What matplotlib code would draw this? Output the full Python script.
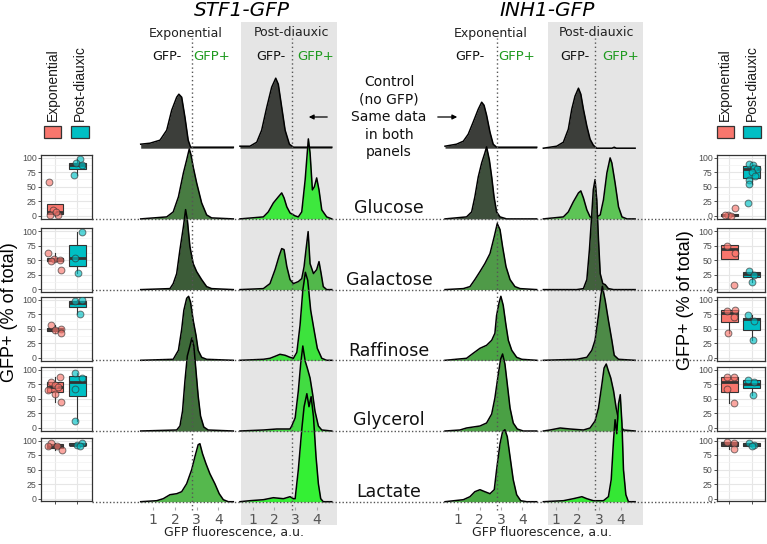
import matplotlib
matplotlib.use("Agg")
import matplotlib.pyplot as plt
from matplotlib.patches import Rectangle, FancyArrowPatch

W, H = 767, 544

# ---------------- data ----------------
rows = ["Control", "Glucose", "Galactose", "Raffinose", "Glycerol", "Lactate"]
sugars = rows[1:]

# histogram outlines (x = log10 GFP, h = height in px above the row baseline)
stf1_exp = {
    "Control": ([0.42, 0.85, 1.31, 1.62, 1.85, 2.08, 2.18, 2.31, 2.46, 2.61, 2.72, 4.69],
                [4, 5, 8, 18, 38, 51, 54, 51, 31, 8, 1, 1]),
    "Glucose": ([0.42, 1.62, 1.92, 2.16, 2.39, 2.54, 2.66, 2.74, 2.84, 3.0, 3.23, 3.46, 3.69, 4.69],
                [0, 2, 7, 22, 46, 59, 70, 64, 52, 36, 16, 4, 1, 0]),
    "Galactose": ([0.42, 1.77, 1.92, 2.08, 2.23, 2.39, 2.49, 2.57, 2.69, 2.84, 3.0, 3.23, 3.46, 3.69, 4.69],
                  [0, 1, 6, 16, 40, 63, 80, 70, 43, 26, 18, 10, 3, 1, 0]),
    "Raffinose": ([0.42, 1.92, 2.16, 2.31, 2.41, 2.54, 2.63, 2.72, 2.84, 2.97, 3.07, 3.23, 3.46, 4.69],
                  [0, 1, 10, 31, 50, 62, 64, 58, 40, 25, 10, 3, 1, 0]),
    "Glycerol": ([0.42, 2.08, 2.23, 2.35, 2.46, 2.57, 2.69, 2.78, 2.87, 2.97, 3.07, 3.18, 3.33, 3.53, 4.69],
                 [0, 1, 5, 20, 50, 75, 85, 93, 85, 60, 35, 15, 4, 1, 0]),
    "Lactate": ([0.42, 1.16, 1.46, 1.77, 2.08, 2.31, 2.54, 2.77, 2.92, 3.07, 3.15, 3.27, 3.43, 3.61, 3.84, 4.04, 4.23, 4.46, 4.69],
                [0, 1, 3, 7, 8, 10, 18, 32, 45, 57, 58, 48, 38, 28, 18, 8, 2, 0, 0]),
}
stf1_post = {
    "Control": ([0.40, 0.87, 1.19, 1.42, 1.66, 1.89, 2.08, 2.20, 2.36, 2.52, 2.72, 2.91, 4.71],
                [2, 2, 6, 18, 41, 61, 70, 64, 41, 18, 4, 1, 1]),
    "Glucose": ([0.40, 1.50, 1.73, 1.97, 2.20, 2.36, 2.47, 2.60, 2.75, 2.99, 3.14, 3.30, 3.46, 3.61, 3.69, 3.80, 3.89, 4.00, 4.11, 4.24, 4.47, 4.71],
                [0, 2, 7, 16, 22, 26, 21, 12, 6, 3, 2, 7, 39, 80, 66, 29, 32, 41, 29, 9, 2, 0]),
    "Galactose": ([0.40, 1.50, 1.81, 2.05, 2.23, 2.36, 2.47, 2.60, 2.75, 2.91, 3.14, 3.30, 3.41, 3.50, 3.60, 3.69, 3.85, 4.00, 4.11, 4.21, 4.31, 4.47, 4.71],
                  [0, 1, 6, 20, 33, 41, 40, 23, 10, 6, 8, 11, 23, 40, 58, 26, 16, 20, 28, 16, 3, 0, 0]),
    "Raffinose": ([0.40, 1.50, 1.81, 2.05, 2.28, 2.52, 2.75, 2.91, 3.07, 3.22, 3.35, 3.47, 3.58, 3.72, 3.88, 4.03, 4.24, 4.47, 4.71],
                  [0, 1, 2, 4, 6, 5, 3, 2, 8, 35, 70, 88, 80, 50, 30, 12, 2, 0, 0]),
    "Glycerol": ([0.40, 1.50, 2.13, 2.75, 2.83, 2.99, 3.14, 3.25, 3.35, 3.46, 3.56, 3.69, 3.81, 3.92, 4.08, 4.24, 4.71],
                 [0, 1, 2, 2, 5, 13, 40, 67, 85, 70, 63, 53, 37, 20, 5, 1, 0]),
    "Lactate": ([0.40, 0.87, 1.50, 1.97, 2.44, 2.75, 2.91, 2.99, 3.14, 3.30, 3.41, 3.54, 3.64, 3.74, 3.85, 3.97, 4.08, 4.19, 4.31, 4.71],
                [0, 1, 2, 4, 3, 5, 3, 3, 32, 72, 95, 108, 95, 105, 85, 45, 18, 3, 0, 0]),
}
inh1_exp = {
    "Control": ([0.38, 0.92, 1.24, 1.47, 1.70, 1.94, 2.10, 2.21, 2.33, 2.49, 2.64, 2.80, 4.68],
                [2, 4, 7, 14, 26, 39, 46, 43, 33, 16, 4, 1, 1]),
    "Glucose": ([0.38, 1.39, 1.63, 1.78, 1.94, 2.10, 2.25, 2.33, 2.46, 2.57, 2.68, 2.80, 2.96, 3.27, 4.68],
                [0, 2, 7, 22, 42, 56, 66, 72, 59, 42, 22, 7, 2, 0, 0]),
    "Galactose": ([0.38, 1.24, 1.55, 1.78, 2.02, 2.25, 2.49, 2.69, 2.83, 2.96, 3.08, 3.24, 3.43, 3.66, 3.90, 4.68],
                  [0, 1, 3, 10, 18, 26, 36, 53, 66, 60, 43, 23, 10, 3, 1, 0]),
    "Raffinose": ([0.38, 1.39, 1.70, 2.02, 2.33, 2.57, 2.72, 2.80, 2.92, 3.00, 3.11, 3.24, 3.35, 3.51, 3.74, 3.98, 4.68],
                  [0, 2, 7, 12, 15, 20, 27, 45, 58, 64, 55, 35, 20, 10, 3, 1, 0]),
    "Glycerol": ([0.38, 1.08, 1.39, 1.70, 2.02, 2.33, 2.57, 2.72, 2.88, 2.99, 3.08, 3.19, 3.30, 3.43, 3.58, 3.77, 4.05, 4.68],
                 [0, 1, 3, 4, 5, 8, 17, 33, 57, 72, 77, 67, 47, 23, 8, 2, 0, 0]),
    "Lactate": ([0.38, 1.24, 1.55, 1.78, 2.02, 2.25, 2.49, 2.69, 2.80, 2.96, 3.08, 3.19, 3.30, 3.43, 3.58, 3.74, 3.93, 4.21, 4.68],
                [0, 2, 5, 10, 12, 10, 8, 12, 32, 58, 70, 72, 65, 45, 22, 7, 1, 0, 0]),
}
inh1_post = {
    "Control": ([0.41, 1.03, 1.34, 1.57, 1.73, 1.88, 2.04, 2.15, 2.27, 2.43, 2.58, 2.73, 2.89, 3.6, 3.7, 3.8, 4.67],
                [0, 2, 6, 19, 39, 52, 60, 54, 39, 22, 9, 3, 0, 0, 1, 0, 0]),
    "Glucose": ([0.41, 1.34, 1.57, 1.80, 2.04, 2.15, 2.27, 2.43, 2.58, 2.73, 2.89, 3.05, 3.20, 3.36, 3.51, 3.59, 3.74, 3.90, 4.06, 4.29, 4.67],
                [0, 2, 7, 17, 26, 28, 21, 9, 2, 1, 2, 4, 19, 46, 61, 56, 36, 12, 2, 0, 0]),
    "Galactose": ([0.41, 1.96, 2.27, 2.43, 2.55, 2.66, 2.73, 2.81, 2.89, 2.97, 3.05, 3.17, 3.28, 3.43, 3.67, 4.67],
                  [0, 0, 1, 10, 40, 76, 100, 110, 90, 50, 16, 6, 5, 1, 0, 0]),
    "Raffinose": ([0.41, 1.96, 2.43, 2.66, 2.81, 2.97, 3.08, 3.15, 3.28, 3.43, 3.59, 3.70, 3.90, 4.67],
                  [0, 1, 3, 10, 20, 45, 65, 74, 60, 40, 20, 5, 1, 0]),
    "Glycerol": ([0.41, 0.72, 1.19, 1.65, 2.27, 2.58, 2.81, 2.97, 3.13, 3.23, 3.33, 3.43, 3.54, 3.67, 3.79, 3.94, 4.13, 4.67],
                 [0, 1, 3, 2, 1, 3, 10, 23, 47, 63, 67, 60, 53, 40, 23, 7, 1, 0]),
    "Lactate": ([0.41, 1.34, 1.80, 2.20, 2.43, 2.73, 3.20, 3.43, 3.56, 3.67, 3.74, 3.82, 3.90, 3.98, 4.06, 4.13, 4.24, 4.36, 4.67],
                [0, 1, 3, 5, 3, 1, 1, 5, 22, 62, 82, 68, 98, 107, 78, 32, 7, 0, 0]),
}

# fill colours of the histograms (darker = fewer GFP+ cells)
stf1_exp_col = ["#3c3e3a", "#487c42", "#3c5c38", "#3e6b3a", "#41703c", "#55b84d"]
stf1_post_col = ["#3c3e3a", "#3ee83e", "#52b84b", "#3de33d", "#42dc42", "#34f034"]
inh1_exp_col = ["#3c3e3a", "#3e4f3c", "#4f9a48", "#4aa544", "#4aa044", "#48a842"]
inh1_post_col = ["#3c3e3a", "#5dc456", "#41613c", "#4d8a47", "#52a84b", "#34e834"]

thresholds = [2.8, 2.85, 2.8, 2.83]

# box plots: (whislo, q1, med, q3, whishi) per sugar
stf1_box_exp = [(0, 3, 7, 21, 21), (48, 48, 51, 54, 62), (43, 46, 49, 52, 57), (45, 61, 70, 78, 88), (84, 87, 90, 94, 95)]
stf1_box_post = [(70, 80, 87, 91, 97), (28, 40, 53, 76, 98), (76, 87, 95, 98, 99), (12, 54, 78, 90, 95), (91, 92, 93, 95, 95)]
stf1_pts_exp = [[58, 10, 2, 1, 6], [62, 52, 50, 48, 33], [57, 50, 48, 43], [88, 78, 73, 70, 65, 58, 45], [95, 90, 84, 91]]
stf1_pts_post = [[97, 91, 88, 70], [98, 53, 28], [98, 99, 76], [95, 85, 67, 12], [93, 95, 91]]
stf1_jit_exp = [[-0.28, -0.1, -0.25, 0.12, 0.05], [-0.3, -0.05, 0.2, -0.2, 0.25], [-0.2, 0.25, 0.0, 0.25], [0.2, -0.2, 0.0, 0.15, -0.3, 0.0, 0.25], [-0.2, 0.1, 0.3, -0.3]]
stf1_jit_post = [[0.1, -0.05, 0.2, -0.15], [0.2, -0.1, 0.05], [-0.1, 0.2, 0.1], [-0.1, 0.2, -0.1, -0.1], [0.0, 0.2, 0.1]]

inh1_box_exp = [(0, 0, 1, 3, 3), (52, 52, 70, 76, 76), (43, 62, 77, 83, 83), (42, 62, 79, 88, 88), (85, 91, 94, 97, 98)]
inh1_box_post = [(55, 65, 80, 86, 92), (13, 21, 26, 29, 31), (30, 48, 66, 68, 73), (57, 69, 76, 83, 83), (90, 90, 93, 95, 95)]
inh1_pts_exp = [[13, 1, 0, 2], [75, 62, 8], [80, 83, 70, 43], [88, 87, 67, 42], [98, 96, 85]]
inh1_pts_post = [[90, 88, 82, 80, 75, 68, 62, 55, 22], [31, 25, 13], [73, 63, 30], [82, 78, 57], [95, 92, 90]]
inh1_jit_exp = [[0.25, -0.05, 0.1, -0.2], [-0.1, 0.25, 0.2], [-0.1, 0.25, 0.2, -0.05], [-0.1, 0.2, -0.1, 0.2], [-0.1, 0.2, 0.2]]
inh1_jit_post = [[-0.1, 0.05, 0.1, 0.25, 0.0, 0.15, -0.1, -0.1, -0.15], [-0.1, 0.1, 0.0], [-0.15, 0.1, 0.05], [-0.15, 0.1, 0.05], [-0.1, 0.1, 0.0]]

phases = ["Exponential", "Post-diauxic"]
phase_colors = ["#F8766D", "#00BFC4"]

# ---------------- layout helpers ----------------
fig = plt.figure(figsize=(W / 100, H / 100), dpi=100)
fig.patch.set_facecolor("white")


def px_axes(x0, y0, x1, y1, **kw):
    return fig.add_axes([x0 / W, 1 - y1 / H, (x1 - x0) / W, (y1 - y0) / H], **kw)


def ftext(x, y, s, **kw):
    kw.setdefault("ha", "center")
    kw.setdefault("va", "center")
    return fig.text(x / W, 1 - y / H, s, **kw)


ROW_STEP = 70.7
baselines = [ROW_STEP * (5 - i) for i in range(6)]
HIST_TOP, HIST_BOT = 21.7, 525
YLIM = (-23.3, 480)

# ---------------- histogram columns ----------------
columns = [
    (stf1_exp, stf1_exp_col, 140.7, 233.3, (0.42, 4.69), "white"),
    (stf1_post, stf1_post_col, 241, 336.7, (0.45, 4.94), "#e5e5e5"),
    (inh1_exp, inh1_exp_col, 445, 536.7, (0.38, 4.68), "white"),
    (inh1_post, inh1_post_col, 548.3, 643.3, (0.64, 5.05), "#e5e5e5"),
]

for (hists, cols, x0, x1, xlim, face), thr in zip(columns, thresholds):
    ax = px_axes(x0, HIST_TOP, x1, HIST_BOT)
    ax.set_facecolor(face)
    ax.set_xlim(*xlim)
    ax.set_ylim(*YLIM)
    for i, name in enumerate(rows):
        xs, hs = hists[name]
        b = baselines[i]
        top = [b + h for h in hs]
        ax.fill_between(xs, b, top, color=cols[i], lw=0, zorder=2 + i, clip_on=False)
        ax.plot(xs, top, color="black", lw=1.1, zorder=2 + i, clip_on=False)
    ax.axvline(thr, ymin=(HIST_BOT - 510) / (HIST_BOT - HIST_TOP), ymax=(HIST_BOT - 38) / (HIST_BOT - HIST_TOP),
               color="#555555", ls=(0, (1, 2)), lw=1, zorder=20)
    for s in ax.spines.values():
        s.set_visible(False)
    ax.spines["bottom"].set_position(("data", -5.3))
    ax.set_yticks([])
    ax.set_xticks([1, 2, 3, 4])
    ax.tick_params(axis="x", direction="out", length=2.5, width=0.8, color="#aaaaaa",
                   labelsize=10, labelcolor="#555555", pad=1.5)

# dotted guide lines across the figure at each sugar baseline
ov = px_axes(91.7, HIST_TOP, 716.7, HIST_BOT, zorder=30)
ov.set_ylim(*YLIM)
ov.axis("off")
for b in baselines[1:]:
    ov.axhline(b, color="#555555", ls=(0, (1, 1.5)), lw=1)

# ---------------- box plots ----------------
zero_px = [215.7, 289.2, 357.7, 427.7, 498.5]
unit = 0.58


def box_panel(x0, x1, xlim, zpx, st_e, st_p, pe, pp, je, jp, last):
    ax = px_axes(x0, zpx - 105 * unit, x1, zpx + 5 * unit)
    stats = []
    for s in (st_e, st_p):
        stats.append(dict(whislo=s[0], q1=s[1], med=s[2], q3=s[3], whishi=s[4], fliers=[]))
    bp = ax.bxp(stats, positions=[1, 2], widths=0.75, patch_artist=True, showcaps=False,
                manage_ticks=False,
                boxprops=dict(edgecolor="#333333", lw=0.8),
                whiskerprops=dict(color="#333333", lw=0.8),
                medianprops=dict(color="#333333", lw=2))
    for patch, c in zip(bp["boxes"], phase_colors):
        patch.set_facecolor(c)
    for k, (vals, jit) in enumerate([(pe, je), (pp, jp)]):
        ax.scatter([k + 1 + j for j in jit], vals, s=24, facecolor=phase_colors[k], alpha=0.65,
                   edgecolor="#333333", linewidth=0.7, zorder=5)
    ax.set_xlim(*xlim)
    ax.set_ylim(-5, 105)
    ax.set_yticks([0, 25, 50, 75, 100])
    ax.set_yticks([12.5, 37.5, 62.5, 87.5], minor=True)
    ax.set_xticks([1, 2])
    ax.set_xticklabels([])
    ax.grid(which="major", color="#e6e6e6", lw=0.8)
    ax.grid(which="minor", axis="y", color="#f2f2f2", lw=0.5)
    ax.set_axisbelow(True)
    for s in ax.spines.values():
        s.set_color("#333333")
        s.set_linewidth(0.9)
    ax.tick_params(axis="y", which="major", length=2, width=0.6, color="#333333",
                   labelsize=6.3, labelcolor="#4d4d4d", pad=1)
    ax.tick_params(axis="y", which="minor", length=0)
    for lab in ax.get_yticklabels():
        lab.set_fontfamily("Liberation Sans")
    ax.tick_params(axis="x", length=2 if last else 0, width=0.6, color="#333333")


for r in range(5):
    box_panel(40.7, 91.7, (0.35, 2.65), zero_px[r], stf1_box_exp[r], stf1_box_post[r],
              stf1_pts_exp[r], stf1_pts_post[r], stf1_jit_exp[r], stf1_jit_post[r], r == 4)
    box_panel(716.7, 765, (0.44, 2.6), zero_px[r], inh1_box_exp[r], inh1_box_post[r],
              inh1_pts_exp[r], inh1_pts_post[r], inh1_jit_exp[r], inh1_jit_post[r], r == 4)

# legends (ggplot style, rotated labels)
legend_spots = [(52.5, 80.0), (725.3, 752.0)]
for cxs in legend_spots:
    for cx, lab, c in zip(cxs, phases, phase_colors):
        ftext(cx, 121, lab, rotation=90, va="bottom", fontsize=10,
              family="Liberation Sans", color="#1a1a1a")
        fig.add_artist(Rectangle(((cx - 8.6) / W, 1 - 137.7 / H), 17.2 / W, 11.7 / H,
                                 transform=fig.transFigure, facecolor=c, edgecolor="#333333", lw=0.9))

ftext(10, 312, "GFP+ (% of total)", rotation=90, fontsize=13, family="Liberation Sans")
ftext(685, 300, "GFP+ (% of total)", rotation=90, fontsize=13, family="Liberation Sans")

# ---------------- labels ----------------
green = "#1f9a1f"
ftext(241.7, 11, "STF1-GFP", fontsize=14.5, style="italic")
ftext(547.5, 11, "INH1-GFP", fontsize=14.5, style="italic")
for cx, lab in [(186, "Exponential"), (291.7, "Post-diauxic"), (491, "Exponential"), (596.7, "Post-diauxic")]:
    ftext(cx, 33, lab, fontsize=9, color="#222222")
for cm, cp in [(167, 211.7), (271, 315.7), (470, 516.7), (575, 621)]:
    ftext(cm, 57, "GFP-", fontsize=9.2, color="#111111")
    ftext(cp, 57, "GFP+", fontsize=9.5, color=green)

for y, line in zip([82, 99.5, 117, 134.5, 152], ["Control", "(no GFP)", "Same data", "in both", "panels"]):
    ftext(389, y, line, fontsize=10, color="#111111")
fig.add_artist(FancyArrowPatch((330 / W, 1 - 117 / H), (306 / W, 1 - 117 / H), transform=fig.transFigure,
                               arrowstyle="-|>", mutation_scale=7, lw=0.9, color="black"))
fig.add_artist(FancyArrowPatch((435 / W, 1 - 117 / H), (460 / W, 1 - 117 / H), transform=fig.transFigure,
                               arrowstyle="-|>", mutation_scale=7, lw=0.9, color="black"))

for y, name in zip([208, 280, 350.7, 420, 491.7], sugars):
    ftext(389, y, name, fontsize=12.5, color="#111111")

ftext(234, 532.7, "GFP fluorescence, a.u.", fontsize=9, color="#222222")
ftext(542.5, 532.7, "GFP fluorescence, a.u.", fontsize=9, color="#222222")

fig.savefig("out.png", dpi=100)
